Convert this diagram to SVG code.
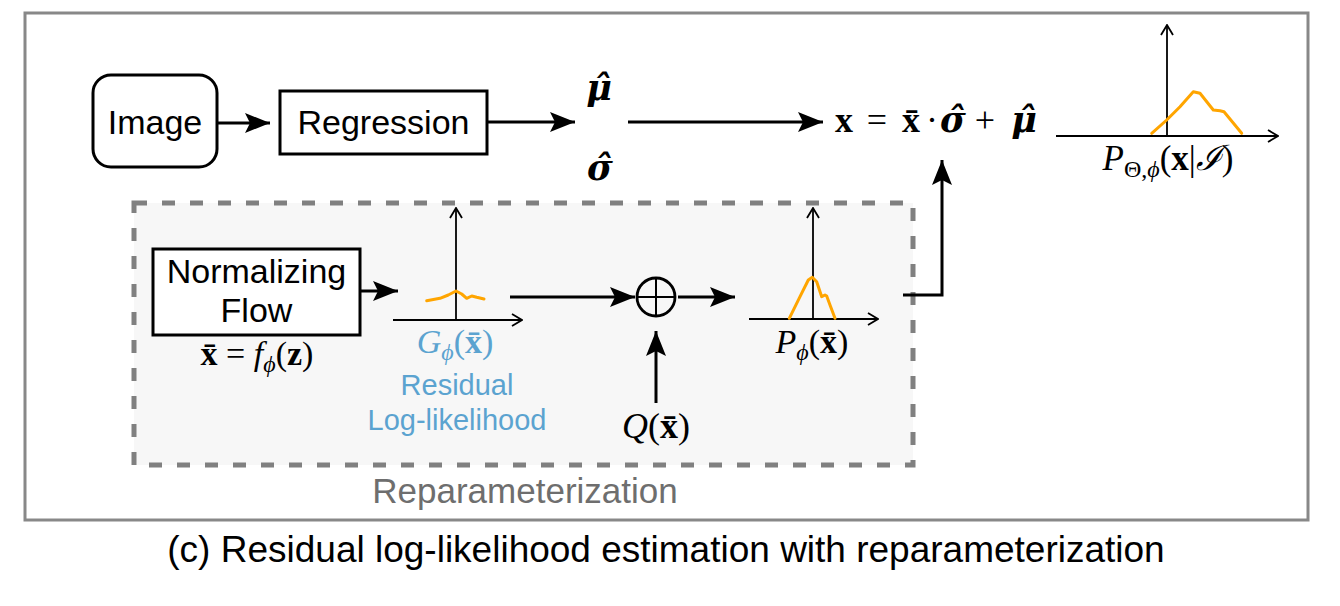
<svg xmlns="http://www.w3.org/2000/svg" width="1340" height="606" viewBox="0 0 1340 606">
<defs>
<style>
.box{fill:#fff;stroke:#000;stroke-width:3}
.lbl{font-family:"Liberation Sans",Arial,sans-serif;font-size:34px;fill:#000;text-anchor:middle}
.math{font-family:"Liberation Serif","DejaVu Serif",serif;font-size:36px;fill:#000}
.b{font-weight:bold}
.bi{font-weight:bold;font-style:italic}
.it{font-style:italic}
.dv{font-family:"DejaVu Serif",serif;font-size:35px;font-weight:bold;font-style:italic}
.arr{stroke:#000;stroke-width:3;fill:none;marker-end:url(#ah)}
.axis{stroke:#000;stroke-width:1.8;fill:none;marker-end:url(#oh)}
.curve{stroke:#FFA500;stroke-width:3;fill:none;stroke-linejoin:round;stroke-linecap:round}
.blue{fill:#5BA3D0}
</style>
<marker id="ah" markerUnits="userSpaceOnUse" markerWidth="26" markerHeight="20" refX="25" refY="10" orient="auto">
<path d="M0,0 L25,10 L0,20 L5,10 z" fill="#000"/>
</marker>
<marker id="oh" markerUnits="userSpaceOnUse" markerWidth="12" markerHeight="14" refX="11" refY="7" orient="auto">
<path d="M1,1 L11,7 L1,13" fill="none" stroke="#000" stroke-width="1.8"/>
</marker>
</defs>
<rect x="0" y="0" width="1340" height="606" fill="#fff"/>
<rect id="frame" x="25" y="13" width="1283" height="507" fill="none" stroke="#888" stroke-width="3"/>
<g id="reparameterization">
<rect x="134" y="203" width="779" height="262" fill="#f7f7f7" stroke="#808080" stroke-width="5" stroke-dasharray="13 15"/>
<text x="525" y="503" style="font-family:'Liberation Sans',Arial,sans-serif;font-size:35px;fill:#6e6e6e;text-anchor:middle">Reparameterization</text>
</g>
<g id="image">
<rect class="box" x="93" y="75" width="124" height="92" rx="18"/>
<text class="lbl" x="155" y="134">Image</text>
</g>
<g id="regression">
<rect class="box" x="280" y="91" width="207" height="63"/>
<text class="lbl" x="383.5" y="134">Regression</text>
</g>
<g id="mu-sigma">
<text class="math dv" x="599" y="100" text-anchor="middle">μ̂</text>
<text class="math dv" x="600" y="180" text-anchor="middle">σ̂</text>
</g>
<g id="formula">
<text class="math" y="132" text-anchor="middle"><tspan class="b" x="844">x</tspan><tspan x="877">=</tspan><tspan class="b" x="911">x̄</tspan><tspan x="932">·</tspan><tspan class="dv" x="953">σ̂</tspan><tspan x="985">+</tspan><tspan class="dv" x="1024">μ̂</tspan></text>
</g>
<g id="normalizing-flow">
<rect class="box" x="153" y="249" width="207" height="86"/>
<text class="lbl" x="256.5" y="283">Normalizing</text>
<text class="lbl" x="256.5" y="322">Flow</text>
<text class="math" x="257" y="365" text-anchor="middle" style="font-size:34px"><tspan class="b">x̄</tspan> = <tspan class="it">f</tspan><tspan class="it" style="font-size:24px" dy="7">ϕ</tspan><tspan dy="-7">(</tspan><tspan class="b">z</tspan>)</text>
</g>
<g id="g-plot">
<line class="axis" x1="393" y1="320" x2="522" y2="320"/>
<line class="axis" x1="456" y1="320" x2="456" y2="208"/>
<polyline class="curve" points="426.7,300.7 440,298.3 448.3,295 456,291 461.7,294 466.7,298.3 471.7,296 476.7,297.3 484,299"/>
<text class="math blue" x="455" y="353" text-anchor="middle" style="font-size:34px"><tspan class="it">G</tspan><tspan class="it" style="font-size:24px" dy="7">ϕ</tspan><tspan dy="-7">(</tspan><tspan class="b">x̄</tspan>)</text>
<text class="lbl blue" x="457" y="395" style="font-size:29px">Residual</text>
<text class="lbl blue" x="457" y="430" style="font-size:29px">Log-likelihood</text>
</g>
<g id="oplus">
<circle cx="656" cy="297" r="19" fill="none" stroke="#000" stroke-width="2.8"/>
<line x1="637" y1="297" x2="675" y2="297" stroke="#000" stroke-width="2"/>
<line x1="656" y1="278" x2="656" y2="316" stroke="#000" stroke-width="2"/>
</g>
<g id="q">
<text class="math" x="656" y="438" text-anchor="middle"><tspan class="it">Q</tspan>(<tspan class="b">x̄</tspan>)</text>
</g>
<g id="p-plot">
<line class="axis" x1="749" y1="319" x2="878" y2="319"/>
<line class="axis" x1="813" y1="319" x2="813" y2="208"/>
<polyline class="curve" points="789.3,318.3 800,296.7 808.3,280 812.3,277.3 816.7,281.7 821.7,296.7 825,295 826.7,296 830,305 835,318.3"/>
<text class="math" x="812" y="353" text-anchor="middle" style="font-size:34px"><tspan class="it">P</tspan><tspan class="it" style="font-size:24px" dy="7">ϕ</tspan><tspan dy="-7">(</tspan><tspan class="b">x̄</tspan>)</text>
</g>
<g id="final-plot">
<line class="axis" x1="1056" y1="136" x2="1278" y2="136"/>
<line class="axis" x1="1167" y1="136" x2="1167" y2="25"/>
<polyline class="curve" points="1151.7,133.3 1166.7,120 1180,106.7 1193.3,91.7 1200,93.3 1213.3,110 1220,110.7 1224,111.7 1241.7,133.3"/>
<text class="math" x="1168" y="170" text-anchor="middle" style="font-size:35px"><tspan class="it">P</tspan><tspan style="font-size:24px" dy="7">Θ,<tspan class="it">ϕ</tspan></tspan><tspan dy="-7">(</tspan><tspan class="b">x</tspan>|<tspan class="it">ℐ</tspan>)</text>
</g>
<g id="connectors">
<line class="arr" x1="217" y1="123" x2="270" y2="123"/>
<line class="arr" x1="487" y1="122" x2="575" y2="122"/>
<line class="arr" x1="628" y1="122" x2="823" y2="122"/>
<line class="arr" x1="360" y1="291" x2="398" y2="291"/>
<line class="arr" x1="510" y1="297" x2="635" y2="297"/>
<line class="arr" x1="678" y1="297" x2="735" y2="297"/>
<line class="arr" x1="656" y1="403" x2="656" y2="331"/>
<polyline class="arr" points="903,295 942,295 942,160"/>
</g>
<text x="666" y="562" style="font-family:'Liberation Sans',Arial,sans-serif;font-size:37px;fill:#000;text-anchor:middle">(c) Residual log-likelihood estimation with reparameterization</text>
</svg>
